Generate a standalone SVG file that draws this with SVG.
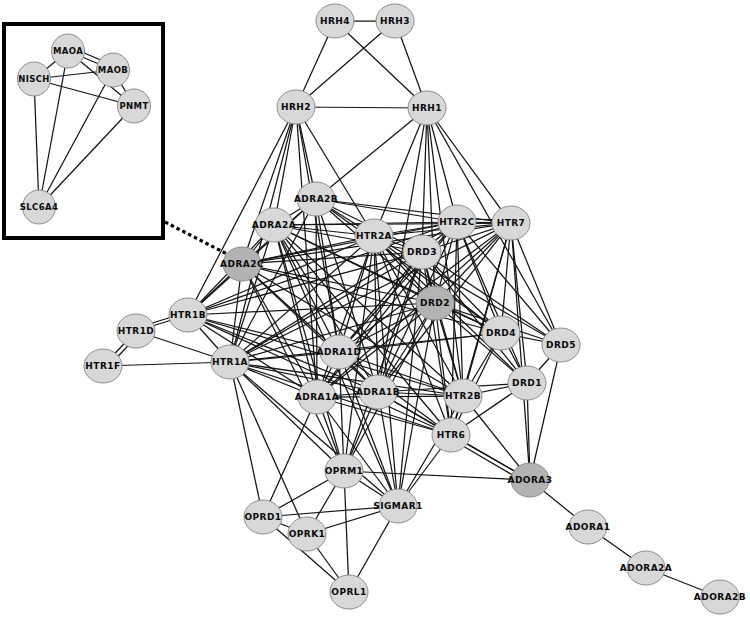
<svg xmlns="http://www.w3.org/2000/svg" width="750" height="617" viewBox="0 0 750 617">
<style>
.e line{stroke:#141414;stroke-width:1.25;fill:none}
.n ellipse{fill:#d8d8d8;stroke:#8c8c8c;stroke-width:1}
.n.d ellipse{fill:#b3b3b3}
.n text{font-family:"DejaVu Sans",sans-serif;font-weight:bold;font-size:9px;letter-spacing:0.45px;text-anchor:middle;fill:#0a0a0a}
.i text{font-size:8.5px;letter-spacing:0.4px}
</style>
<rect width="750" height="617" fill="#fff"/>
<rect x="4" y="24" width="159" height="214" fill="#fff" stroke="#000" stroke-width="4"/>
<g id="connectors" class="e">
<line x1="68" y1="51" x2="113" y2="70"/><line x1="70" y1="47" x2="115" y2="66"/><line x1="68" y1="51" x2="34" y2="79"/><line x1="68" y1="51" x2="134" y2="106"/><line x1="68" y1="51" x2="39" y2="207"/>
<line x1="34" y1="79" x2="113" y2="70"/><line x1="34" y1="79" x2="134" y2="106"/><line x1="34" y1="79" x2="39" y2="207"/>
<line x1="113" y1="70" x2="134" y2="106"/><line x1="113" y1="70" x2="39" y2="207"/><line x1="134" y1="106" x2="39" y2="207"/>
<line x1="165" y1="222" x2="229" y2="255" stroke-dasharray="3.5,3" style="stroke:#000;stroke-width:3.2"/>
<line x1="335" y1="21" x2="395" y2="21"/><line x1="335" y1="21" x2="296" y2="107"/><line x1="335" y1="21" x2="427" y2="108"/>
<line x1="395" y1="21" x2="296" y2="107"/><line x1="395" y1="21" x2="427" y2="108"/><line x1="296" y1="107" x2="427" y2="108"/>
<line x1="296" y1="107" x2="242" y2="264"/><line x1="296" y1="107" x2="188" y2="315"/><line x1="296" y1="107" x2="230" y2="362"/><line x1="296" y1="107" x2="274" y2="225"/><line x1="296" y1="107" x2="316" y2="199"/><line x1="296" y1="107" x2="374" y2="236"/><line x1="296" y1="107" x2="339" y2="352"/><line x1="296" y1="107" x2="317" y2="397"/>
<line x1="427" y1="108" x2="316" y2="199"/><line x1="427" y1="108" x2="374" y2="236"/><line x1="427" y1="108" x2="422" y2="252"/><line x1="427" y1="108" x2="435" y2="303"/><line x1="427" y1="108" x2="457" y2="222"/><line x1="427" y1="108" x2="511" y2="223"/><line x1="427" y1="108" x2="463" y2="396"/><line x1="427" y1="108" x2="378" y2="392"/><line x1="427" y1="108" x2="561" y2="345"/>
<line x1="274" y1="225" x2="316" y2="199"/><line x1="274" y1="225" x2="242" y2="264"/><line x1="274" y1="225" x2="374" y2="236"/><line x1="274" y1="225" x2="457" y2="222"/><line x1="274" y1="225" x2="511" y2="223"/><line x1="274" y1="225" x2="422" y2="252"/><line x1="274" y1="225" x2="435" y2="303"/><line x1="274" y1="225" x2="230" y2="362"/><line x1="274" y1="225" x2="188" y2="315"/><line x1="274" y1="225" x2="317" y2="397"/><line x1="274" y1="225" x2="378" y2="392"/><line x1="274" y1="225" x2="339" y2="352"/><line x1="274" y1="225" x2="463" y2="396"/><line x1="274" y1="225" x2="451" y2="435"/><line x1="274" y1="225" x2="344" y2="471"/><line x1="274" y1="225" x2="398" y2="506"/><line x1="274" y1="225" x2="501" y2="333"/>
<line x1="316" y1="199" x2="242" y2="264"/><line x1="316" y1="199" x2="374" y2="236"/><line x1="316" y1="199" x2="457" y2="222"/><line x1="316" y1="199" x2="511" y2="223"/><line x1="316" y1="199" x2="422" y2="252"/><line x1="316" y1="199" x2="435" y2="303"/><line x1="316" y1="199" x2="230" y2="362"/><line x1="316" y1="199" x2="188" y2="315"/><line x1="316" y1="199" x2="317" y2="397"/><line x1="316" y1="199" x2="378" y2="392"/><line x1="316" y1="199" x2="339" y2="352"/><line x1="316" y1="199" x2="501" y2="333"/>
<line x1="242" y1="264" x2="374" y2="236"/><line x1="242" y1="264" x2="457" y2="222"/><line x1="242" y1="264" x2="511" y2="223"/><line x1="242" y1="264" x2="422" y2="252"/><line x1="242" y1="264" x2="435" y2="303"/><line x1="242" y1="264" x2="230" y2="362"/><line x1="242" y1="264" x2="188" y2="315"/><line x1="242" y1="264" x2="317" y2="397"/><line x1="242" y1="264" x2="378" y2="392"/><line x1="242" y1="264" x2="339" y2="352"/><line x1="242" y1="264" x2="501" y2="333"/><line x1="242" y1="264" x2="463" y2="396"/><line x1="242" y1="264" x2="344" y2="471"/>
<line x1="374" y1="236" x2="457" y2="222"/><line x1="374" y1="236" x2="511" y2="223"/><line x1="374" y1="236" x2="422" y2="252"/><line x1="374" y1="236" x2="435" y2="303"/><line x1="374" y1="236" x2="230" y2="362"/><line x1="374" y1="236" x2="188" y2="315"/><line x1="374" y1="236" x2="317" y2="397"/><line x1="374" y1="236" x2="378" y2="392"/><line x1="374" y1="236" x2="339" y2="352"/><line x1="374" y1="236" x2="501" y2="333"/><line x1="374" y1="236" x2="527" y2="383"/><line x1="374" y1="236" x2="561" y2="345"/><line x1="374" y1="236" x2="463" y2="396"/><line x1="374" y1="236" x2="451" y2="435"/><line x1="374" y1="236" x2="398" y2="506"/><line x1="374" y1="236" x2="344" y2="471"/>
<line x1="457" y1="222" x2="511" y2="223"/><line x1="457" y1="219" x2="511" y2="220"/><line x1="457" y1="222" x2="422" y2="252"/><line x1="457" y1="222" x2="435" y2="303"/><line x1="457" y1="222" x2="230" y2="362"/><line x1="457" y1="222" x2="188" y2="315"/><line x1="457" y1="222" x2="317" y2="397"/><line x1="457" y1="222" x2="378" y2="392"/><line x1="457" y1="222" x2="339" y2="352"/><line x1="457" y1="222" x2="501" y2="333"/><line x1="457" y1="222" x2="527" y2="383"/><line x1="457" y1="222" x2="561" y2="345"/><line x1="457" y1="222" x2="463" y2="396"/><line x1="457" y1="222" x2="451" y2="435"/>
<line x1="511" y1="223" x2="422" y2="252"/><line x1="511" y1="223" x2="435" y2="303"/><line x1="511" y1="223" x2="230" y2="362"/><line x1="511" y1="223" x2="317" y2="397"/><line x1="511" y1="223" x2="378" y2="392"/><line x1="511" y1="223" x2="339" y2="352"/><line x1="511" y1="223" x2="501" y2="333"/><line x1="511" y1="223" x2="527" y2="383"/><line x1="511" y1="223" x2="561" y2="345"/><line x1="511" y1="223" x2="463" y2="396"/><line x1="511" y1="223" x2="451" y2="435"/><line x1="511" y1="223" x2="530" y2="480"/>
<line x1="422" y1="252" x2="435" y2="303"/><line x1="422" y1="252" x2="230" y2="362"/><line x1="422" y1="252" x2="188" y2="315"/><line x1="422" y1="252" x2="317" y2="397"/><line x1="422" y1="252" x2="378" y2="392"/><line x1="422" y1="252" x2="339" y2="352"/><line x1="422" y1="252" x2="501" y2="333"/><line x1="422" y1="252" x2="527" y2="383"/><line x1="422" y1="252" x2="561" y2="345"/><line x1="422" y1="252" x2="463" y2="396"/><line x1="422" y1="252" x2="451" y2="435"/><line x1="422" y1="252" x2="398" y2="506"/><line x1="422" y1="252" x2="344" y2="471"/>
<line x1="435" y1="303" x2="230" y2="362"/><line x1="435" y1="303" x2="188" y2="315"/><line x1="435" y1="303" x2="317" y2="397"/><line x1="435" y1="303" x2="378" y2="392"/><line x1="435" y1="303" x2="339" y2="352"/><line x1="435" y1="303" x2="501" y2="333"/><line x1="435" y1="303" x2="527" y2="383"/><line x1="435" y1="303" x2="561" y2="345"/><line x1="435" y1="303" x2="463" y2="396"/><line x1="435" y1="303" x2="451" y2="435"/><line x1="435" y1="303" x2="398" y2="506"/><line x1="435" y1="303" x2="344" y2="471"/>
<line x1="230" y1="362" x2="188" y2="315"/><line x1="230" y1="362" x2="136" y2="331"/><line x1="230" y1="362" x2="103" y2="366"/><line x1="230" y1="362" x2="317" y2="397"/><line x1="230" y1="362" x2="378" y2="392"/><line x1="230" y1="362" x2="339" y2="352"/><line x1="230" y1="362" x2="501" y2="333"/><line x1="230" y1="362" x2="463" y2="396"/><line x1="230" y1="362" x2="451" y2="435"/><line x1="230" y1="362" x2="398" y2="506"/><line x1="230" y1="362" x2="344" y2="471"/><line x1="230" y1="362" x2="307" y2="534"/><line x1="230" y1="362" x2="263" y2="517"/>
<line x1="188" y1="315" x2="136" y2="331"/><line x1="188" y1="312" x2="136" y2="328"/><line x1="188" y1="315" x2="317" y2="397"/><line x1="188" y1="315" x2="378" y2="392"/><line x1="188" y1="315" x2="339" y2="352"/><line x1="188" y1="315" x2="463" y2="396"/><line x1="188" y1="315" x2="451" y2="435"/>
<line x1="136" y1="331" x2="103" y2="366"/><line x1="140" y1="333" x2="107" y2="368"/>
<line x1="339" y1="352" x2="317" y2="397"/><line x1="339" y1="352" x2="378" y2="392"/><line x1="339" y1="352" x2="501" y2="333"/><line x1="339" y1="352" x2="463" y2="396"/><line x1="339" y1="352" x2="451" y2="435"/><line x1="339" y1="352" x2="398" y2="506"/><line x1="339" y1="352" x2="344" y2="471"/>
<line x1="317" y1="397" x2="378" y2="392"/><line x1="317" y1="397" x2="463" y2="396"/><line x1="317" y1="397" x2="451" y2="435"/><line x1="317" y1="397" x2="398" y2="506"/><line x1="317" y1="397" x2="344" y2="471"/><line x1="317" y1="397" x2="263" y2="517"/>
<line x1="378" y1="392" x2="463" y2="396"/><line x1="378" y1="392" x2="451" y2="435"/><line x1="378" y1="392" x2="398" y2="506"/><line x1="378" y1="392" x2="344" y2="471"/><line x1="378" y1="392" x2="530" y2="480"/><line x1="378" y1="392" x2="527" y2="383"/>
<line x1="501" y1="333" x2="561" y2="345"/><line x1="501" y1="333" x2="527" y2="383"/><line x1="501" y1="333" x2="463" y2="396"/><line x1="501" y1="333" x2="451" y2="435"/>
<line x1="463" y1="396" x2="451" y2="435"/><line x1="463" y1="396" x2="527" y2="383"/><line x1="463" y1="396" x2="530" y2="480"/><line x1="463" y1="396" x2="398" y2="506"/>
<line x1="451" y1="435" x2="530" y2="480"/><line x1="451" y1="439" x2="528" y2="484"/><line x1="451" y1="435" x2="398" y2="506"/><line x1="451" y1="435" x2="527" y2="383"/>
<line x1="561" y1="345" x2="527" y2="383"/><line x1="561" y1="345" x2="530" y2="480"/><line x1="527" y1="383" x2="530" y2="480"/>
<line x1="530" y1="480" x2="344" y2="471"/><line x1="530" y1="480" x2="588" y2="527"/><line x1="588" y1="527" x2="646" y2="568"/><line x1="646" y1="568" x2="720" y2="597"/>
<line x1="344" y1="471" x2="398" y2="506"/><line x1="344" y1="471" x2="263" y2="517"/><line x1="344" y1="471" x2="307" y2="534"/><line x1="344" y1="471" x2="349" y2="592"/>
<line x1="398" y1="506" x2="263" y2="517"/><line x1="398" y1="506" x2="307" y2="534"/><line x1="398" y1="506" x2="349" y2="592"/>
<line x1="263" y1="517" x2="307" y2="534"/><line x1="263" y1="517" x2="349" y2="592"/><line x1="307" y1="534" x2="349" y2="592"/>
</g>
<g id="MAOA" class="n i"><ellipse cx="68" cy="51" rx="16.5" ry="17"/><text x="68" y="54">MAOA</text></g>
<g id="MAOB" class="n i"><ellipse cx="113" cy="70" rx="16.5" ry="17"/><text x="113" y="73">MAOB</text></g>
<g id="NISCH" class="n i"><ellipse cx="34" cy="79" rx="16.5" ry="17"/><text x="34" y="82">NISCH</text></g>
<g id="PNMT" class="n i"><ellipse cx="134" cy="106" rx="16.5" ry="17"/><text x="134" y="109">PNMT</text></g>
<g id="SLC6A4" class="n i"><ellipse cx="39" cy="207" rx="16.5" ry="17"/><text x="39" y="210">SLC6A4</text></g>
<g id="HRH4" class="n"><ellipse cx="335" cy="21" rx="19" ry="17"/><text x="335" y="24">HRH4</text></g>
<g id="HRH3" class="n"><ellipse cx="395" cy="21" rx="19" ry="17"/><text x="395" y="24">HRH3</text></g>
<g id="HRH2" class="n"><ellipse cx="296" cy="107" rx="19" ry="17"/><text x="296" y="110">HRH2</text></g>
<g id="HRH1" class="n"><ellipse cx="427" cy="108" rx="19" ry="17"/><text x="427" y="111">HRH1</text></g>
<g id="ADRA2B" class="n"><ellipse cx="316" cy="199" rx="19" ry="17"/><text x="316" y="202">ADRA2B</text></g>
<g id="ADRA2A" class="n"><ellipse cx="274" cy="225" rx="19" ry="17"/><text x="274" y="228">ADRA2A</text></g>
<g id="HTR2A" class="n"><ellipse cx="374" cy="236" rx="19" ry="17"/><text x="374" y="239">HTR2A</text></g>
<g id="HTR2C" class="n"><ellipse cx="457" cy="222" rx="19" ry="17"/><text x="457" y="225">HTR2C</text></g>
<g id="HTR7" class="n"><ellipse cx="511" cy="223" rx="19" ry="17"/><text x="511" y="226">HTR7</text></g>
<g id="DRD3" class="n"><ellipse cx="422" cy="252" rx="19" ry="17"/><text x="422" y="255">DRD3</text></g>
<g id="ADRA2C" class="n d"><ellipse cx="242" cy="264" rx="19" ry="17"/><text x="242" y="267">ADRA2C</text></g>
<g id="DRD2" class="n d"><ellipse cx="435" cy="303" rx="19" ry="17"/><text x="435" y="306">DRD2</text></g>
<g id="HTR1B" class="n"><ellipse cx="188" cy="315" rx="19" ry="17"/><text x="188" y="318">HTR1B</text></g>
<g id="HTR1D" class="n"><ellipse cx="136" cy="331" rx="19" ry="17"/><text x="136" y="334">HTR1D</text></g>
<g id="HTR1F" class="n"><ellipse cx="103" cy="366" rx="19" ry="17"/><text x="103" y="369">HTR1F</text></g>
<g id="HTR1A" class="n"><ellipse cx="230" cy="362" rx="19" ry="17"/><text x="230" y="365">HTR1A</text></g>
<g id="ADRA1D" class="n"><ellipse cx="339" cy="352" rx="19" ry="17"/><text x="339" y="355">ADRA1D</text></g>
<g id="DRD4" class="n"><ellipse cx="501" cy="333" rx="19" ry="17"/><text x="501" y="336">DRD4</text></g>
<g id="DRD5" class="n"><ellipse cx="561" cy="345" rx="19" ry="17"/><text x="561" y="348">DRD5</text></g>
<g id="DRD1" class="n"><ellipse cx="527" cy="383" rx="19" ry="17"/><text x="527" y="386">DRD1</text></g>
<g id="ADRA1A" class="n"><ellipse cx="317" cy="397" rx="19" ry="17"/><text x="317" y="400">ADRA1A</text></g>
<g id="ADRA1B" class="n"><ellipse cx="378" cy="392" rx="19" ry="17"/><text x="378" y="395">ADRA1B</text></g>
<g id="HTR2B" class="n"><ellipse cx="463" cy="396" rx="19" ry="17"/><text x="463" y="399">HTR2B</text></g>
<g id="HTR6" class="n"><ellipse cx="451" cy="435" rx="19" ry="17"/><text x="451" y="438">HTR6</text></g>
<g id="OPRM1" class="n"><ellipse cx="344" cy="471" rx="19" ry="17"/><text x="344" y="474">OPRM1</text></g>
<g id="ADORA3" class="n d"><ellipse cx="530" cy="480" rx="19" ry="17"/><text x="530" y="483">ADORA3</text></g>
<g id="SIGMAR1" class="n"><ellipse cx="398" cy="506" rx="19" ry="17"/><text x="398" y="509">SIGMAR1</text></g>
<g id="OPRD1" class="n"><ellipse cx="263" cy="517" rx="19" ry="17"/><text x="263" y="520">OPRD1</text></g>
<g id="OPRK1" class="n"><ellipse cx="307" cy="534" rx="19" ry="17"/><text x="307" y="537">OPRK1</text></g>
<g id="OPRL1" class="n"><ellipse cx="349" cy="592" rx="19" ry="17"/><text x="349" y="595">OPRL1</text></g>
<g id="ADORA1" class="n"><ellipse cx="588" cy="527" rx="19" ry="17"/><text x="588" y="530">ADORA1</text></g>
<g id="ADORA2A" class="n"><ellipse cx="646" cy="568" rx="19" ry="17"/><text x="646" y="571">ADORA2A</text></g>
<g id="ADORA2B" class="n"><ellipse cx="720" cy="597" rx="19" ry="17"/><text x="720" y="600">ADORA2B</text></g>
</svg>
